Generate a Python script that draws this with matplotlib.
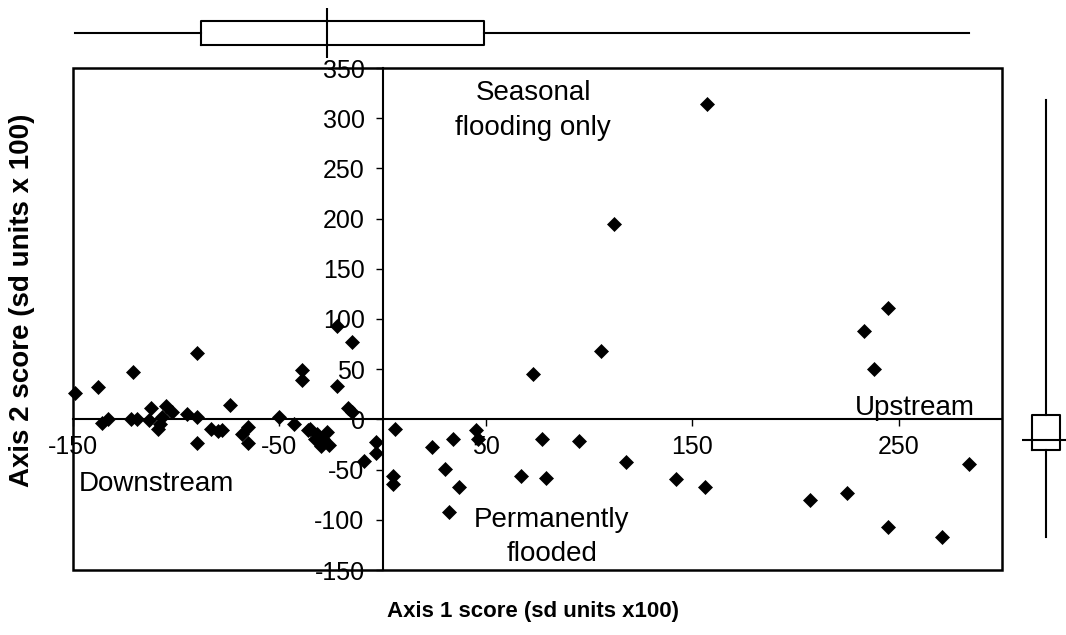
import numpy as np
import matplotlib
matplotlib.use("Agg")
import matplotlib.pyplot as plt
from matplotlib.patches import Rectangle

plt.rcParams['font.family'] = ['Liberation Sans', 'DejaVu Sans']
plt.rcParams['axes.unicode_minus'] = False

# site scores (sd units x100)
axis1 = [-149, -138, -121, -90,
         -136, -133, -122, -119, -112, -113, -109, -105, -107, -102, -108,
         -95, -90, -90, -83, -80, -74, -78,
         -65, -68, -65, -50, -43, -39, -39, -36, -35, -32, -30, -27, -26, -29, -33,
         -22, -15, -22, -17, -15, -9, -3, -3,
         6, 5, 5, 24, 34, 30, 37, 32, 45, 46, 77, 67, 79, 95, 118, 142, 156,
         207, 225, 245, 271, 284,
         157, 112, 106, 73, 245, 233, 238]
axis2 = [26, 32, 47, 66,
         -4, 0, 0, 0, 11, -1, -10, 13, 2, 7, -5,
         5, 2, -24, -10, -12, 14, -11,
         -8, -15, -24, 2, -5, 49, 39, -11, -10, -15, -26, -13, -25, -20, -20,
         93, 77, 33, 11, 7, -41, -23, -33,
         -10, -56, -64, -27, -20, -49, -67, -92, -11, -20, -20, -56, -58, -22, -42, -59, -67,
         -80, -73, -107, -117, -44,
         314, 195, 68, 45, 111, 88, 50]

# box plot summaries (min, q1, median, q3, max)
axis1_box = [-149, -88, -27, 49, 284]
axis2_box = [-117, -30, -21, 4, 318]

xticks = [-150, -50, 50, 150, 250]
yticks = list(range(-150, 351, 50))

fig = plt.figure(figsize=(10.66, 6.35), dpi=100)
ax = fig.add_axes([73/1066, 1-570/635, 929/1066, 502/635])

ax.plot(axis1, axis2, "kD", ms=7.3, mew=0.5, clip_on=False, zorder=3)
ax.set_xlim(-150, 300)
ax.set_ylim(-150, 350)

# axes crossing at the origin, plus a frame round the plot area
for s in ["left", "bottom"]:
	ax.spines[s].set_position(("data", 0))
	ax.spines[s].set_linewidth(1.5)
for s in ["top", "right"]:
	ax.spines[s].set_visible(False)
ax.add_patch(Rectangle((0, 0), 1, 1, transform=ax.transAxes, fill=False,
                       lw=1.8, ec="black", clip_on=False))

ax.set_xticks(xticks)
ax.set_yticks(yticks)
ax.tick_params(axis="x", direction="out", length=5, width=1, pad=6, labelsize=18)
ax.tick_params(axis="y", direction="out", length=5, width=1, pad=8, labelsize=18)

ax.text(73, 338, "Seasonal\nflooding only", ha="center", va="top", fontsize=20, linespacing=1.45)
ax.text(287, -2, "Upstream", ha="right", va="bottom", fontsize=20)
ax.text(-147, -64, "Downstream", ha="left", va="center", fontsize=20)
ax.text(82, -87, "Permanently\nflooded", ha="center", va="top", fontsize=20, linespacing=1.4)

fig.text(533/1066, 1-612/635, "Axis 1 score (sd units x100)", ha="center", va="center",
         fontsize=16, fontweight="bold")
fig.text(22/1066, 1-300/635, "Axis 2 score (sd units x 100)", ha="center", va="center",
         rotation=90, fontsize=20, fontweight="bold")

# marginal box plots
def box_stats(v):
	return [dict(whislo=v[0], q1=v[1], med=v[2], q3=v[3], whishi=v[4], fliers=[])]

props = dict(color="black", linewidth=1.5)

axt = fig.add_axes([73/1066, 1-58/635, 929/1066, 50/635])
axt.bxp(box_stats(axis1_box), positions=[0.5], widths=0.48, vert=False,
        showcaps=False, boxprops=props, whiskerprops=props,
        medianprops=dict(linewidth=0))
axt.axvline(axis1_box[2], color="black", lw=1.5)
axt.set_xlim(-150, 300)
axt.set_ylim(0, 1)
axt.axis("off")

axr = fig.add_axes([1022/1066, 1-570/635, 44/1066, 502/635])
axr.bxp(box_stats(axis2_box), positions=[0.545], widths=0.64, vert=True,
        showcaps=False, boxprops=props, whiskerprops=props,
        medianprops=dict(linewidth=0))
axr.axhline(axis2_box[2], color="black", lw=1.5)
axr.set_ylim(-150, 350)
axr.set_xlim(0, 1)
axr.axis("off")

fig.savefig("out.png", dpi=100)
